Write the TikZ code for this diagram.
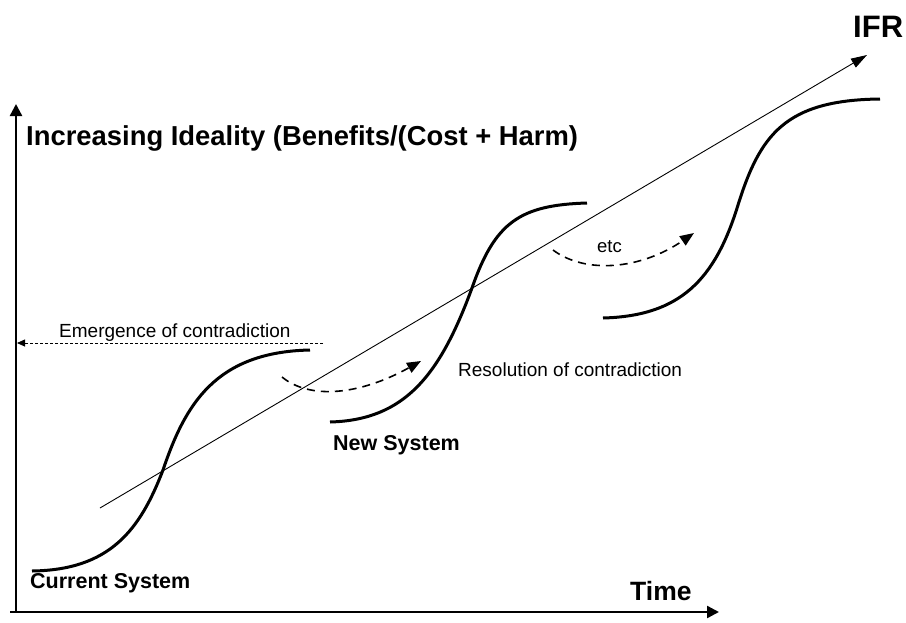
\documentclass[tikz,border=0pt]{standalone}
\usepackage{fontspec}
\setmainfont{Liberation Sans}
\usetikzlibrary{arrows.meta}

\begin{document}
\begin{tikzpicture}[x=1pt,y=-1pt]

\tikzset{axis/.style={line width=2.4pt,-{Triangle[length=12pt,width=12pt]}}}
\tikzset{scurve/.style={line width=3pt}}
\tikzset{jump/.style={line width=1.6pt,dash pattern=on 8pt off 6pt,-{Triangle[length=14pt,width=11pt]}}}
\tikzset{bigtext/.style={font=\bfseries\fontsize{27.4}{32}\selectfont,inner sep=0pt,anchor=base west}}
\tikzset{systext/.style={font=\bfseries\fontsize{21.5}{26}\selectfont,inner sep=0pt,anchor=base west}}
\tikzset{note/.style={font=\fontsize{19}{23}\selectfont,inner sep=0pt,anchor=base west}}

\useasboundingbox (0,0) rectangle (906,622);

% axes
\coordinate (origin) at (16,612);
\coordinate (ytip) at (16,104);
\coordinate (xtip) at (719,612);
\draw[axis] (10,612) -- (xtip);
\draw[axis] (origin) -- (ytip);

% ideal final result trend
\coordinate (trendstart) at (100,508);
\coordinate (trendtip) at (867,55);
\draw[line width=0.9pt,-{Triangle[length=16pt,width=10pt]}] (trendstart) -- (trendtip);

% s-curves
\draw[scurve] (32,571) .. controls (110,570) and (140,530) .. (163,470)
                       .. controls (185,405) and (215,352) .. (310,350);
\draw[scurve] (330,422) .. controls (405,420) and (440,375) .. (472,288)
                        .. controls (495,222) and (520,205) .. (587,203);
\draw[scurve] (603,318) .. controls (680,316) and (715,280) .. (738,205)
                        .. controls (760,135) and (785,100) .. (880,99);

% labels
\node[bigtext] (ideality) at (26,145) {Increasing Ideality (Benefits/(Cost + Harm)};
\node[font=\bfseries\fontsize{31}{36}\selectfont,inner sep=0pt,anchor=base west] (ifr) at (853,37) {IFR};
\node[font=\bfseries\fontsize{26.5}{31}\selectfont,inner sep=0pt,anchor=base west] (time) at (630,600) {Time};
\node[systext] (current) at (30,588) {Current System};
\node[systext] (newsys) at (333,450) {New System};
\node[note] (emerge) at (59,337) {Emergence of contradiction};
\node[note] (resolve) at (458,376) {Resolution of contradiction};
\node[note,font=\fontsize{18.5}{22}\selectfont] (etc) at (597,252) {etc};

% contradiction arrows
\coordinate (emergestart) at (323,343);
\coordinate (emergetip) at (17,343);
\draw[line width=0.8pt,dash pattern=on 3pt off 2pt,-{Triangle[length=8pt,width=7pt]}] (emergestart) -- (emergetip);

\coordinate (jumpastart) at (282,377);
\coordinate (jumpatip) at (421,361);
\draw[jump] (jumpastart) .. controls (310,400) and (360,395) .. (jumpatip);
\coordinate (jumpbstart) at (553,250);
\coordinate (jumpbtip) at (694,233);
\draw[jump] (jumpbstart) .. controls (585,274) and (640,270) .. (jumpbtip);

\end{tikzpicture}
\end{document}
